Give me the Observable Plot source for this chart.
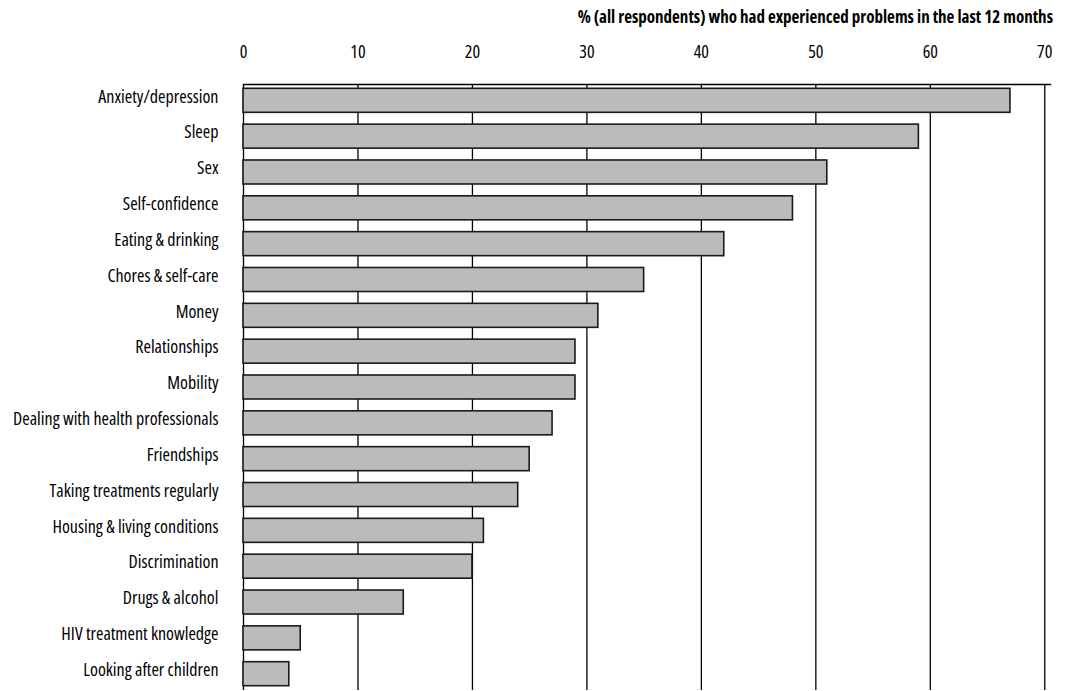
<!DOCTYPE html>
<html>
<head>
<meta charset="utf-8">
<script src="https://cdn.jsdelivr.net/npm/d3@7"></script>
<script src="https://cdn.jsdelivr.net/npm/@observablehq/plot@0.6"></script>
<style>
  body { margin: 0; background: #fff; }
  #wrap { position: relative; width: 1069px; height: 691px; font-family: "Open Sans", sans-serif; font-stretch: 75%; }
  #title { position: absolute; top: 7px; right: 16px; font-size: 17px; line-height: 20px; font-weight: bold; color: #000; white-space: nowrap; }
  svg text { font-stretch: 75%; }
</style>
</head>
<body>
<div id="wrap">
  <div id="title">% (all respondents) who had experienced problems in the last 12 months</div>
</div>
<script>
const categories = [
  "Anxiety/depression",
  "Sleep",
  "Sex",
  "Self-confidence",
  "Eating & drinking",
  "Chores & self-care",
  "Money",
  "Relationships",
  "Mobility",
  "Dealing with health professionals",
  "Friendships",
  "Taking treatments regularly",
  "Housing & living conditions",
  "Discrimination",
  "Drugs & alcohol",
  "HIV treatment knowledge",
  "Looking after children"
];
const values = [67, 59, 51, 48, 42, 35, 31, 29, 29, 27, 25, 24, 21, 20, 14, 5, 4];
const xTicks = [0, 10, 20, 30, 40, 50, 60, 70];

const table = categories.map((c, i) => ({category: c, value: values[i]}));

const chart = Plot.plot({
  width: 1069,
  height: 691,
  marginTop: 84,
  marginLeft: 243,
  marginRight: 19,
  marginBottom: 1,
  style: {
    fontFamily: '"Open Sans", sans-serif',
    fontStretch: "75%",
    fontSize: "18px",
    color: "#000",
    background: "#fff"
  },
  x: {domain: [0, 70.5]},
  y: {domain: categories, paddingInner: 0.33, paddingOuter: 0.12, round: false},
  marks: [
    Plot.ruleX(xTicks, {stroke: "#000", strokeWidth: 1.3}),
    Plot.frame({anchor: "top", stroke: "#000", strokeWidth: 1.3}),
    Plot.barX(table, {x: "value", y: "category", fill: "#bbbbbb", stroke: "#1a1a1a", strokeWidth: 1.6}),
    Plot.axisX({anchor: "top", ticks: xTicks, tickSize: 0, tickPadding: 27, label: null, fontSize: 18}),
    Plot.axisY({anchor: "left", tickSize: 0, tickPadding: 25, label: null, fontSize: 18, dy: -4})
  ]
});
document.getElementById("wrap").appendChild(chart);
</script>
</body>
</html>
